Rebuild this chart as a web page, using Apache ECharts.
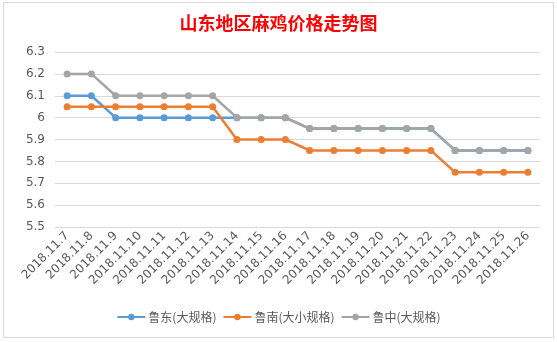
<!DOCTYPE html>
<html><head><meta charset="utf-8">
<script src="https://cdn.jsdelivr.net/npm/echarts@6/dist/echarts.min.js"></script>
<style>html,body{margin:0;padding:0;background:#fff}#c{width:557px;height:342px}</style>
</head><body><div id="c"></div>
<script>
var categories = ['2018.11.7','2018.11.8','2018.11.9','2018.11.10','2018.11.11','2018.11.12','2018.11.13','2018.11.14','2018.11.15','2018.11.16','2018.11.17','2018.11.18','2018.11.19','2018.11.20','2018.11.21','2018.11.22','2018.11.23','2018.11.24','2018.11.25','2018.11.26'];
var ludong = [6.1,6.1,6.0,6.0,6.0,6.0,6.0,6.0,6.0,6.0,5.95,5.95,5.95,5.95,5.95,5.95,5.85,5.85,5.85,5.85];
var lunan = [6.05,6.05,6.05,6.05,6.05,6.05,6.05,5.9,5.9,5.9,5.85,5.85,5.85,5.85,5.85,5.85,5.75,5.75,5.75,5.75];
var luzhong = [6.2,6.2,6.1,6.1,6.1,6.1,6.1,6.0,6.0,6.0,5.95,5.95,5.95,5.95,5.95,5.95,5.85,5.85,5.85,5.85];
var seriesNames = ['鲁东(大规格)','鲁南(大小规格)','鲁中(大规格)'];
var colors = ['#5b9bd5','#ed7d31','#a5a5a5'];
var font = '"Microsoft YaHei","Noto Sans CJK SC","DejaVu Sans",sans-serif';
var numFont = '"DejaVu Sans",sans-serif';
var chart = echarts.init(document.getElementById('c'));
function mk(name, data, color) {
  return {name:name, type:'line', data:data, symbol:'circle', symbolSize:7,
    itemStyle:{color:color}, lineStyle:{color:color, width:2.5}};
}
chart.setOption({
  animation:false,
  textStyle:{fontFamily:font},
  title:{text:'山东地区麻鸡价格走势图', left:'center', top:9,
    textStyle:{color:'#ff0000', fontSize:18, fontWeight:'bold', fontFamily:font}},
  graphic:[{type:'rect', shape:{x:3.5,y:2.5,width:550,height:335}, style:{fill:null, stroke:'#d9d9d9', lineWidth:1}}],
  grid:{left:55, right:17, top:52, bottom:115, containLabel:false},
  legend:{bottom:14, left:'center', itemWidth:28, itemHeight:8, itemGap:6,
    textStyle:{color:'#595959', fontSize:12, fontFamily:font, padding:[0,0,0,-2]}, data:seriesNames},
  xAxis:{type:'category', data:categories, boundaryGap:true,
    axisLine:{show:false}, axisTick:{show:false},
    axisLabel:{rotate:45, color:'#595959', fontSize:12, margin:7, interval:0, fontFamily:numFont}},
  yAxis:{type:'value', min:5.5, max:6.3, interval:0.1,
    axisLine:{show:false}, axisTick:{show:false},
    splitLine:{lineStyle:{color:'#d9d9d9', width:1}},
    axisLabel:{color:'#595959', fontSize:12, margin:10, fontFamily:numFont,
      formatter:function(v){return String(Math.round(v*10)/10);}}},
  series:[mk(seriesNames[0], ludong, colors[0]), mk(seriesNames[1], lunan, colors[1]), mk(seriesNames[2], luzhong, colors[2])]
});
</script></body></html>
